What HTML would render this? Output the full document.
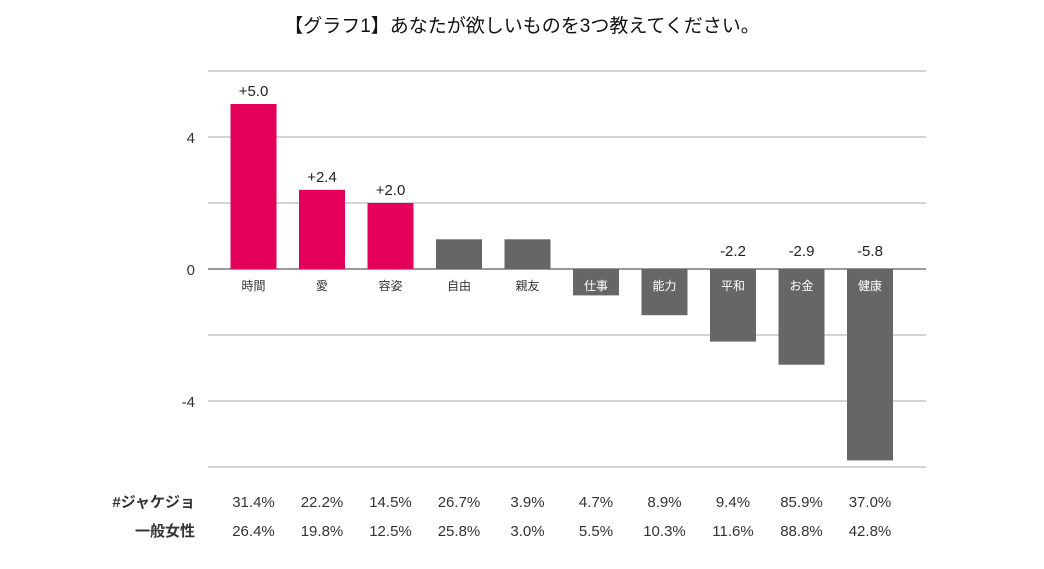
<!DOCTYPE html>
<html><head><meta charset="utf-8"><style>
body{margin:0;background:#fff;}
svg{display:block;font-family:"Liberation Sans","Noto Sans CJK JP",sans-serif;}
</style></head><body>
<svg id="c" width="1044" height="569">
<text x="522" y="32" text-anchor="middle" font-size="19" fill="#111">【グラフ1】あなたが欲しいものを3つ教えてください。</text>
<g id="grid"></g><g id="bars"></g><g id="tbl"></g>
</svg>
<script>
const categories=["時間","愛","容姿","自由","親友","仕事","能力","平和","お金","健康"];
const diffs=[5.0,2.4,2.0,0.9,0.9,-0.8,-1.4,-2.2,-2.9,-5.8];
const diffLabels=["+5.0","+2.4","+2.0","","","","","-2.2","-2.9","-5.8"];
const highlight=[true,true,true,false,false,false,false,false,false,false];
const jyakejo=["31.4%","22.2%","14.5%","26.7%","3.9%","4.7%","8.9%","9.4%","85.9%","37.0%"];
const ippan=["26.4%","19.8%","12.5%","25.8%","3.0%","5.5%","10.3%","11.6%","88.8%","42.8%"];
const gridVals=[6,4,2,0,-2,-4,-6];
const tickLabels={4:"4",0:"0","-4":"-4"};
const NS="http://www.w3.org/2000/svg";
function y(v){return 269-v*33;}
function x(i){return 253.5+i*68.5;}
function mk(t,a,p){const e=document.createElementNS(NS,t);for(const k in a)e.setAttribute(k,a[k]);p.appendChild(e);return e;}
const grid=document.getElementById('grid'),bars=document.getElementById('bars'),tbl=document.getElementById('tbl');
gridVals.forEach(v=>{
 const l=mk('line',{x1:208,x2:926,y1:y(v),y2:y(v),stroke:v===0?'#999':'#bbb','stroke-width':v===0?2:1.3},grid);
 
 
 if(tickLabels[v]!==undefined){
  const t=mk('text',{x:195,y:y(v)+6,'text-anchor':'end','font-size':15,fill:'#333'},grid);t.textContent=tickLabels[v];
  
  
 }
});
categories.forEach((c,i)=>{
 const v=diffs[i],top=Math.min(y(v),y(0)),h=Math.abs(y(v)-y(0));
 const r=mk('rect',{x:x(i)-23,y:top,width:46,height:h,fill:highlight[i]?'#e4005a':'#666'},bars);
 
 
 const neg=v<0;
 const cl=mk('text',{x:x(i),y:290,'text-anchor':'middle','font-size':12,fill:neg?'#fff':'#333'},bars);cl.textContent=c;
 
 
 if(diffLabels[i]){
  const vl=mk('text',{x:x(i),y:neg?y(0)-13:y(v)-8,'text-anchor':'middle','font-size':15,fill:'#222'},bars);vl.textContent=diffLabels[i];
  
  
 }
 [[jyakejo,507],[ippan,536]].forEach(([arr,yy])=>{
  const t=mk('text',{x:x(i),y:yy,'text-anchor':'middle','font-size':15,fill:'#333'},tbl);t.textContent=arr[i];
  
  
 });
});
[["#ジャケジョ",507],["一般女性",536]].forEach(([s,yy])=>{
 const t=mk('text',{x:195,y:yy,'text-anchor':'end','font-size':15,'font-weight':'bold',fill:'#333'},tbl);t.textContent=s;
 
 
});
</script>
</body></html>
